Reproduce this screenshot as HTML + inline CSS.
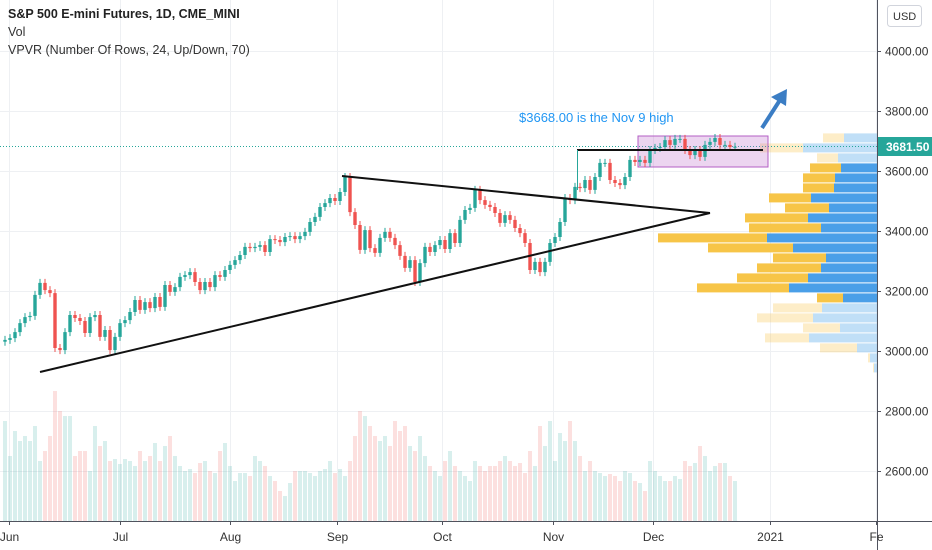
<!DOCTYPE html>
<html><head><meta charset="utf-8"><style>
html,body{margin:0;padding:0;background:#fff;}
svg{display:block;font-family:"Liberation Sans",sans-serif;}
</style></head><body>
<svg id="chart" width="932" height="550" viewBox="0 0 932 550">
<g id="grid"></g>
<g id="vpvr"></g>
<g id="vol"></g>
<line x1="0" x2="877" y1="146.5" y2="146.5" stroke="#26a69a" stroke-width="1" stroke-dasharray="1,2"/>
<rect x="638" y="136" width="130" height="31" fill="rgba(186,104,200,0.28)" stroke="#b35fc4" stroke-width="1"/>
<g id="candles"></g>
<line x1="342" y1="176" x2="710" y2="213" stroke="#111" stroke-width="2"/>
<line x1="40" y1="372" x2="710" y2="213" stroke="#111" stroke-width="2"/>
<line x1="577" y1="150" x2="763" y2="150" stroke="#111" stroke-width="2"/>
<line x1="577.5" y1="150" x2="577.5" y2="190" stroke="#26a69a" stroke-width="1"/>
<text x="519" y="122" font-size="13" fill="#2196f3">$3668.00 is the Nov 9 high</text>
<g>
<line x1="762" y1="128" x2="780" y2="100" stroke="#3b7dc4" stroke-width="4"/>
<polygon points="787,89 771,97 786,106" fill="#3b7dc4"/>
</g>
<line x1="0" x2="932" y1="521.5" y2="521.5" stroke="#50535e" stroke-width="1"/>
<line x1="877.5" x2="877.5" y1="0" y2="550" stroke="#50535e" stroke-width="1"/>
<g id="axes"></g>
<rect x="878" y="137" width="54" height="19" fill="#26a69a"/>
<text x="886" y="151" font-size="12" font-weight="bold" fill="#fff">3681.50</text>
<rect x="887.5" y="5.5" width="34" height="21" rx="3" fill="#fff" stroke="#d1d4dc"/>
<text x="893" y="20" font-size="11" fill="#333">USD</text>
<text x="8" y="18" font-size="12.5" font-weight="bold" fill="#222">S&amp;P 500 E-mini Futures, 1D, CME_MINI</text>
<text x="8" y="36" font-size="12.5" fill="#333">Vol</text>
<text x="8" y="54" font-size="12.5" fill="#333">VPVR (Number Of Rows, 24, Up/Down, 70)</text>
</svg>
<script>
const closes = [3037,3043,3063,3093,3113,3117,3187,3227,3203,3193,3010,3003,3063,3120,3110,3100,3060,3113,3120,3047,3070,3003,3047,3093,3103,3130,3170,3137,3163,3143,3180,3147,3220,3197,3213,3247,3253,3263,3230,3203,3230,3213,3253,3247,3270,3287,3303,
3320,3347,3343,3347,3353,3330,3373,3370,3363,3380,3383,3373,3383,3397,3430,3447,3480,3493,3510,3500,3530,3580,3463,3420,3337,3403,3343,3327,3377,3397,3377,3353,3317,3277,3303,3230,3293,3347,3330,3353,3370,3340,3393,3360,3437,3470,
3477,3537,3503,3487,3480,3460,3427,3453,3437,3410,3393,3360,3270,3297,3263,3297,3360,3380,3430,3510,3503,3547,3543,3570,3537,3580,3627,3627,3570,3560,3553,3580,3637,3630,3637,3627,3670,3677,3680,3703,3687,3707,3707,3670,3653,3670,3647,3687,3697,3710,3687,3687,3680,3681];
const volumes = [100,65,90,80,85,80,95,60,70,85,130,110,105,105,65,70,70,50,95,75,80,60,62,57,
62,60,55,70,60,65,78,60,75,85,65,55,50,52,48,58,60,50,48,70,78,55,40,
48,48,45,65,60,55,45,40,30,25,38,50,50,50,48,45,50,52,60,48,52,45,60,
85,110,105,95,85,80,85,75,100,90,95,75,70,85,65,55,50,45,60,70,55,
50,45,40,60,55,50,55,55,60,65,60,55,58,48,70,55,95,75,100,60,88,80,
100,80,65,50,60,50,48,45,47,45,40,50,48,40,38,30,60,
50,45,40,40,45,42,60,55,58,75,65,50,55,58,58,45,40];
const profileTotal = [54,117,60,67,74,74,108,92,132,128,219,169,104,120,140,180,60,104,120,74,112,57,9,4];
const profileUp = [33,74,39,36,42,43,66,48,69,56,110,84,51,56,69,88,34,55,64,37,68,20,7,3];
const profileActive = [0,0,0,1,1,1,1,1,1,1,1,1,1,1,1,1,1,0,0,0,0,0,0,0];
const priceTicks = [4000,3800,3600,3400,3200,3000,2800,2600];
const monthLabels = ["Jun","Jul","Aug","Sep","Oct","Nov","Dec","2021","Fe"];
const monthBarIndex = [0.8,23,45,66.4,87.4,109.6,129.6,153,174.2];

const NS="http://www.w3.org/2000/svg";
const xOf = i => 5 + 5*i;
const yOf = p => 171 - (p-3600)*0.3;
const volH = v => v;
const rowTopPrice = 3727, rowStep = 100/3;
const profX = v => 877 - v;
function mk(tag, attrs, parent){const e=document.createElementNS(NS,tag);for(const k in attrs)e.setAttribute(k,attrs[k]);parent.appendChild(e);return e;}

const grid=document.getElementById('grid'), axes=document.getElementById('axes');
priceTicks.forEach(p=>{
  const y=Math.round(yOf(p))+0.5;
  const gl=mk('line',{x1:0,x2:877,y1:y,y2:y,stroke:'#eef0f3','stroke-width':1},grid);
  
  
  const t=mk('text',{x:885,y:y+4,'font-size':12,fill:'#333'},axes);
  t.textContent=p.toFixed(2);
  
  
  const tk=mk('line',{x1:877,x2:881,y1:y,y2:y,stroke:'#50535e'},axes);
  
  
});
monthLabels.forEach((m,k)=>{
  const x=Math.round(xOf(monthBarIndex[k]))+0.5;
  const gl=mk('line',{x1:x,x2:x,y1:0,y2:521,stroke:'#eef0f3','stroke-width':1},grid);
  
  
  const tk=mk('line',{x1:x,x2:x,y1:521,y2:525,stroke:'#50535e'},axes);
  
  
  const t=mk('text',{x:x,y:541,'font-size':12,fill:'#333','text-anchor':k==8?'start':'middle'},axes);
  if(k==8) t.setAttribute('x',x-7);
  t.textContent=m;
  
  
});

const vp=document.getElementById('vpvr');
profileTotal.forEach((tot,r)=>{
  const yTop=yOf(rowTopPrice - r*rowStep)+0.5, h=9;
  const a=profileActive[r]?1:0.3;
  const y1=mk('rect',{x:profX(tot),y:yTop,width:tot-profileUp[r],height:h,fill:'#f7c548','fill-opacity':a},vp);
  
  
  const b=mk('rect',{x:profX(profileUp[r]),y:yTop,width:profileUp[r],height:h,fill:a==1?'#4a9fe8':'#8cc4f0','fill-opacity':a==1?1:0.55},vp);
  
  
});

const vg=document.getElementById('vol'), cg=document.getElementById('candles');
closes.forEach((c,i)=>{
  const o = i==0 ? c-6 : closes[i-1];
  const up = c>=o;
  const x=xOf(i);
  const v=volumes[i];
  const vb=mk('rect',{x:x-2,y:521-volH(v),width:4,height:volH(v),fill:up?'rgba(38,166,154,0.18)':'rgba(239,83,80,0.18)'},vg);
  
  
  const col=up?'#26a69a':'#ef5350';
  const yt=yOf(Math.max(o,c)), yb=yOf(Math.min(o,c));
  const w=mk('line',{x1:x,x2:x,y1:yt-4,y2:yb+4,stroke:col,'stroke-width':1},cg);
  
  
  const bd=mk('rect',{x:x-1.7,y:yt,width:3.4,height:Math.max(1,yb-yt),fill:col},cg);
  
  
});
</script>
</body></html>
